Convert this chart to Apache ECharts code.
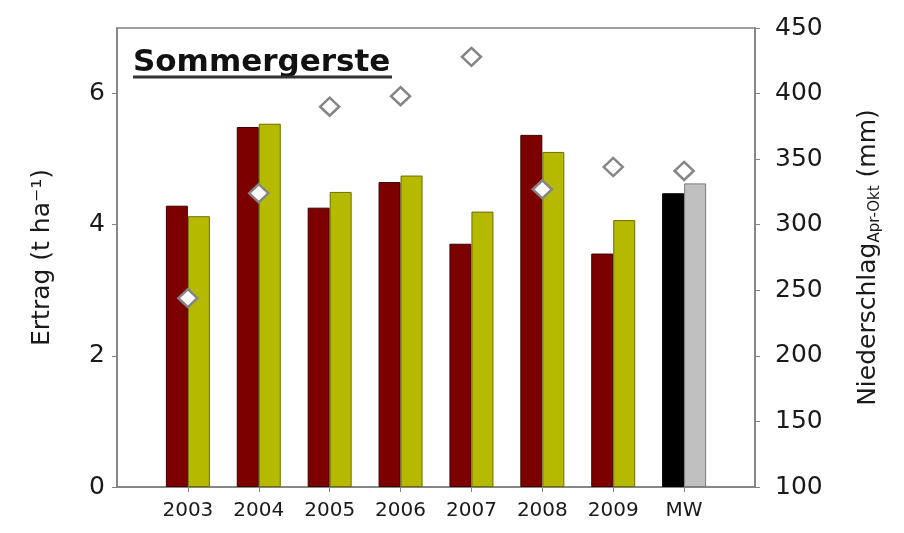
<!DOCTYPE html>
<html>
<head>
<meta charset="utf-8">
<script src="https://cdn.jsdelivr.net/npm/echarts@6/dist/echarts.min.js"></script>
<style>
  html, body { margin: 0; padding: 0; background: #fff; }
  #chart { width: 904px; height: 533px; }
</style>
</head>
<body>
<div id="chart"></div>
<script>
// Kategorien (Jahre + Mittelwert)
const years = ['2003', '2004', '2005', '2006', '2007', '2008', '2009', 'MW'];
// Ertrag (t ha-1), zwei Varianten
const ertragRot = [4.29, 5.49, 4.26, 4.65, 3.71, 5.37, 3.56, 4.48];
const ertragGelb = [4.13, 5.54, 4.50, 4.75, 4.20, 5.11, 4.07, 4.63];
// Niederschlag Apr-Okt (mm)
const niederschlag = [244, 324, 390, 398, 428, 327, 344, 341];
// Achsenbeschriftungen
const leftTicks = [0, 2, 4, 6];
const rightTicks = [100, 150, 200, 250, 300, 350, 400, 450];

const chart = echarts.init(document.getElementById('chart'));

// leere Kategorie vorne und hinten, damit Abstand zum Rahmen stimmt
const axisCats = [''].concat(years, ['']);
const pad = arr => [null].concat(arr, [null]);

const lastIdx = years.length; // MW in gepolsterter Liste
function barData(values, color, border, mwColor, mwBorder) {
    return pad(values).map((v, i) => {
        if (v === null) return null;
        const isMW = i === lastIdx;
        return {
            value: v,
            itemStyle: {
                color: isMW ? mwColor : color,
                borderColor: isMW ? mwBorder : border
            }
        };
    });
}

const axisColor = '#7f7f7f';
const labelColor = '#1a1a1a';
const font = 'DejaVu Sans';

const option = {
    animation: false,
    backgroundColor: '#fff',
    grid: {
        left: 117, right: 149, top: 28, bottom: 46,
        show: true,
        borderColor: axisColor,
        borderWidth: 1.5,
        backgroundColor: 'transparent'
    },
    graphic: [
        {
            type: 'text',
            left: 133, top: 47,
            style: {
                text: 'Sommergerste',
                font: 'bold 31px "DejaVu Sans"',
                fill: '#111'
            }
        },
        {
            type: 'line',
            shape: { x1: 133, y1: 77, x2: 392, y2: 77 },
            style: { stroke: '#333', lineWidth: 3 }
        }
    ],
    xAxis: {
        type: 'category',
        data: axisCats,
        boundaryGap: false,
        axisLine: { lineStyle: { color: axisColor, width: 1.5 } },
        axisTick: {
            alignWithLabel: true,
            length: 5,
            lineStyle: { color: axisColor },
            interval: (i, v) => v !== ''
        },
        axisLabel: {
            color: labelColor, fontFamily: font, fontSize: 20, margin: 14,
            interval: 0
        },
        splitLine: { show: false }
    },
    yAxis: [
        {
            type: 'value',
            min: 0, max: 7,
            position: 'left',
            name: 'Ertrag (t ha⁻¹)',
            nameLocation: 'middle',
            nameRotate: 90,
            nameGap: 62,
            nameTextStyle: { color: labelColor, fontFamily: font, fontSize: 25 },
            axisLine: { show: true, lineStyle: { color: axisColor, width: 1.5 } },
            axisTick: { show: true, length: 5, lineStyle: { color: axisColor }, customValues: leftTicks },
            axisLabel: { color: labelColor, fontFamily: font, fontSize: 25, margin: 12, customValues: leftTicks },
            splitLine: { show: false }
        },
        {
            type: 'value',
            min: 100, max: 450, interval: 50,
            position: 'right',
            name: 'Niederschlag{sub|Apr-Okt} (mm)',
            nameLocation: 'middle',
            nameRotate: 90,
            nameGap: 98,
            nameTextStyle: {
                color: labelColor, fontFamily: font, fontSize: 25, lineHeight: 30,
                rich: {
                    sub: { fontFamily: font, fontSize: 15, color: labelColor, verticalAlign: 'bottom', lineHeight: 30, padding: [12, 0, 0, 0] }
                }
            },
            axisLine: { show: true, lineStyle: { color: axisColor, width: 1.5 } },
            axisTick: { show: true, length: 5, lineStyle: { color: axisColor }, customValues: rightTicks },
            axisLabel: { color: labelColor, fontFamily: font, fontSize: 25, margin: 20, customValues: rightTicks },
            splitLine: { show: false }
        }
    ],
    series: [
        {
            name: 'Ertrag A',
            type: 'bar',
            yAxisIndex: 0,
            barWidth: 22,
            barGap: '0%',
            data: barData(ertragRot, '#7d0000', '#3d0000', '#000000', '#000000'),
            itemStyle: { borderWidth: 1 }
        },
        {
            name: 'Ertrag B',
            type: 'bar',
            yAxisIndex: 0,
            barWidth: 22,
            barGap: '0%',
            data: barData(ertragGelb, '#b5b900', '#6e6e00', '#c0c0c0', '#7a7a7a'),
            itemStyle: { borderWidth: 1 }
        },
        {
            name: 'Niederschlag',
            type: 'scatter',
            yAxisIndex: 1,
            symbol: 'diamond',
            symbolSize: [19, 18],
            data: pad(niederschlag),
            itemStyle: { color: '#fff', borderColor: '#858585', borderWidth: 2.5, opacity: 1 },
            z: 5
        }
    ]
};

chart.setOption(option);
window.addEventListener('resize', () => chart.resize());
</script>
</body>
</html>
